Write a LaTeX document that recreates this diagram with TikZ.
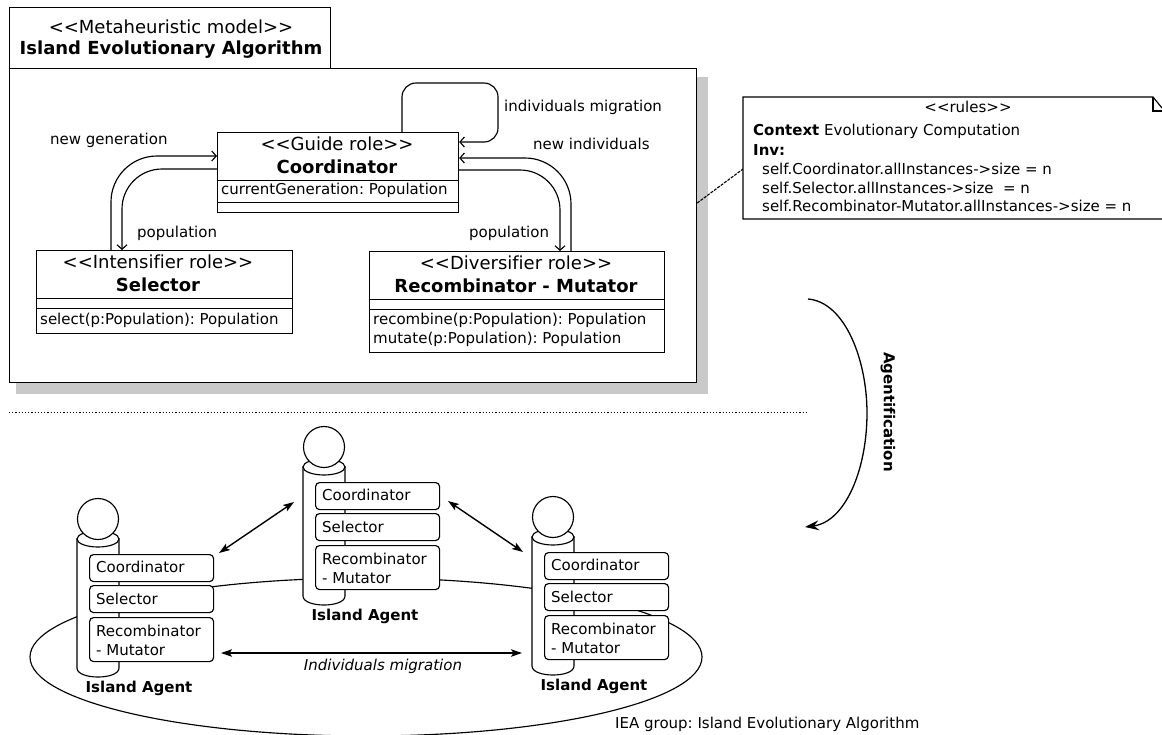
\documentclass[tikz,border=0pt]{standalone}
\usepackage{fontspec}
\setmainfont{DejaVu Sans}[Ligatures=NoCommon]
\frenchspacing
\usetikzlibrary{arrows.meta,calc,shapes.geometric}
\tikzset{
  line/.style={draw=black,line width=1.15pt},
  umlbox/.style={line,fill=white,rectangle,inner sep=0pt,anchor=north west},
  openconn/.style={line width=1.15pt,-{Straight Barb[length=4.5pt,width=10pt]}},
  dbl/.style={line width=1.4pt,{Stealth[length=11pt,width=7.5pt,inset=2.5pt]}-{Stealth[length=11pt,width=7.5pt,inset=2.5pt]}},
  lbl/.style={font=\fontsize{15}{17}\selectfont,inner sep=0pt},
  rolea/.style={font=\fontsize{18}{20}\selectfont,inner sep=0pt},
  roleb/.style={font=\fontsize{18}{20}\selectfont\bfseries,inner sep=0pt},
  attr/.style={font=\fontsize{15}{17}\selectfont,inner sep=0pt,anchor=west},
  notetxt/.style={font=\fontsize{15}{17}\selectfont,inner sep=0pt,anchor=west},
  ibox/.style={line,fill=white,rectangle,rounded corners=4pt,inner sep=0pt,anchor=north west},
  itxt/.style={font=\fontsize{15}{17}\selectfont,inner sep=0pt,anchor=west},
  ilabel/.style={font=\fontsize{15}{17}\selectfont\bfseries,inner sep=0pt},
}
\newcommand{\islandagent}[3]{%
  \begin{scope}[shift={(#2,#3)}]
    \draw[line,fill=white] (-21,20) -- (-21,149) .. controls (-21,161) and (21,161) .. (21,149) -- (21,20) -- cycle;
    \draw[line,fill=white] (0,20) ellipse [x radius=21pt,y radius=8pt];
    \node[circle,line,fill=white,minimum size=41pt,inner sep=0pt] (#1head) at (0,0) {};
    \node[ibox,minimum width=124pt,minimum height=27pt] (#1c) at (-9,35) {};
    \node[itxt] (#1ct) at (-2,48) {Coordinator};
    \node[ibox,minimum width=124pt,minimum height=27pt] (#1s) at (-9,66) {};
    \node[itxt] (#1st) at (-2,80) {Selector};
    \node[ibox,minimum width=124pt,minimum height=44pt] (#1r) at (-9,98) {};
    \node[itxt] (#1rt) at (-2,112) {Recombinator};
    \node[itxt] (#1mt) at (-2,131) {- Mutator};
    \node[ilabel] (#1l) at (41,169) {Island Agent};
  \end{scope}}
\begin{document}
\begin{tikzpicture}[x=1pt,y=-1pt]
\useasboundingbox (0,0) rectangle (1162,734);
% shadow and package
\fill[fill=white] (0,0) rectangle (1162,734);
\fill[fill=black!21] (16,77) rectangle (708,394);
\node[umlbox,minimum width=687pt,minimum height=314pt] (pkg) at (9,68) {};
\node[umlbox,minimum width=321pt,minimum height=61pt] (tab) at (9,7) {};
\node[rolea] (tabA) at (171,27) {<{}<Metaheuristic model>{}>};
\node[roleb] (tabB) at (171,50) {Island Evolutionary Algorithm};
% coordinator
\node[umlbox,minimum width=241pt,minimum height=80pt] (coord) at (217,132) {};
\draw[line] (217,180.5) -- (458,180.5) (217,202.5) -- (458,202.5);
\node[rolea] (coordA) at (337,144) {<{}<Guide role>{}>};
\node[roleb] (coordB) at (337,167) {Coordinator};
\node[attr] (coordC) at (221,190) {currentGeneration: Population};
% selector
\node[umlbox,minimum width=256pt,minimum height=83pt] (sel) at (36,250) {};
\draw[line] (36,298.5) -- (292,298.5) (36,308.5) -- (292,308.5);
\node[rolea] (selA) at (158,262) {<{}<Intensifier role>{}>};
\node[roleb] (selB) at (158,285) {Selector};
\node[attr] (selC) at (40,320) {select(p:Population): Population};
% recombinator
\node[umlbox,minimum width=295pt,minimum height=101pt] (rec) at (369,251) {};
\draw[line] (369,299.5) -- (664,299.5) (369,309.5) -- (664,309.5);
\node[rolea] (recA) at (516,263) {<{}<Diversifier role>{}>};
\node[roleb] (recB) at (516,286) {Recombinator - Mutator};
\node[attr] (recC) at (373,320) {recombine(p:Population): Population};
\node[attr] (recD) at (373,339) {mutate(p:Population): Population};
% connectors
\coordinate (loopS) at ($(coord.north west)+(185,0)$);
\coordinate (loopE) at ($(coord.north east)+(0,10)$);
\coordinate (loopT) at (498,83);
\draw[openconn,rounded corners=14pt] (loopS) |- (loopT) |- (loopE);
\coordinate (ngS) at ($(sel.north west)+(75,0)$);
\coordinate (ngE) at ($(coord.north west)+(0,24)$);
\draw[openconn,rounded corners=46pt] (ngS) |- (ngE);
\coordinate (ppS) at ($(coord.north west)+(0,37)$);
\coordinate (ppE) at ($(sel.north west)+(86,0)$);
\draw[openconn,rounded corners=40pt] (ppS) -| (ppE);
\coordinate (niS) at ($(rec.north west)+(202,0)$);
\coordinate (niE) at ($(coord.north east)+(0,26)$);
\draw[openconn,rounded corners=46pt] (niS) |- (niE);
\coordinate (prS) at ($(coord.north east)+(0,38)$);
\coordinate (prE) at ($(rec.north west)+(191,0)$);
\draw[openconn,rounded corners=40pt] (prS) -| (prE);
% labels
\node[lbl,anchor=west] (l1) at (504,107) {individuals migration};
\node[lbl,anchor=west] (l2) at (533,144) {new individuals};
\node[lbl,anchor=west] (l3) at (50,140) {new generation};
\node[lbl,anchor=west] (l4) at (137,233) {population};
\node[lbl,anchor=west] (l5) at (469,233) {population};
% note
\coordinate (noteA) at (743,169);
\draw[line width=1.1pt,dash pattern=on 3pt off 1.2pt] (pkg.east |- 0,203) -- (noteA);
\draw[line,fill=white] (1162,219) -- (743,219) -- (743,97) -- (1153,97) -- (1162,108);
\draw[line] (1153,97) -- (1153,111) -- (1162,111);
\node[notetxt,anchor=center] (n0) at (968,107) {<{}<rules>{}>};
\node[notetxt] (n1) at (753,131) {\textbf{Context} Evolutionary Computation};
\node[notetxt] (n2) at (753,150) {\textbf{Inv:}};
\node[notetxt] (n3) at (762,169) {self.Coordinator.allInstances->size = n};
\node[notetxt] (n4) at (762,188) {self.Selector.allInstances->size \ = n};
\node[notetxt] (n5) at (762,206) {self.Recombinator-Mutator.allInstances->size = n};
% divider and agentification
\coordinate (dv1) at (9,412.5);
\coordinate (dv2) at (807,412.5);
\draw[line width=1.2pt,dash pattern=on 1.2pt off 2pt] (dv1) -- (dv2);
\coordinate (agA) at (808,299);
\coordinate (agB) at (867,413);
\coordinate (agC) at (805,527);
\draw[line width=1.3pt,-{Stealth[length=14pt,width=10pt,inset=5pt]}] (agA) .. controls (845,302) and (867,360) .. (agB) .. controls (867,470) and (845,522) .. (agC);
\node[font=\fontsize{15}{17}\selectfont\bfseries,inner sep=0pt,rotate=-90] (agt) at (888,412) {Agentification};
% group ellipse
\node[ellipse,line,minimum width=672pt,minimum height=158pt,inner sep=0pt] (grp) at (366,657) {};
\node[lbl,anchor=west] (grpt) at (615,724) {IEA group: Island Evolutionary Algorithm};
% agents
\islandagent{L}{98}{519}
\islandagent{M}{324}{447}
\islandagent{R}{553}{517}
% arrows
\coordinate (a1) at (219,553); \coordinate (a2) at (294,502);
\coordinate (a3) at (448,501); \coordinate (a4) at (523,552);
\coordinate (a5) at (221,653); \coordinate (a6) at (522,653);
\draw[dbl] (a1) -- (a2);
\draw[dbl] (a3) -- (a4);
\draw[dbl] (a5) -- (a6);
\node[lbl,font=\fontsize{15}{17}\selectfont\itshape] (mig) at (383,666) {Individuals migration};
\end{tikzpicture}
\end{document}
